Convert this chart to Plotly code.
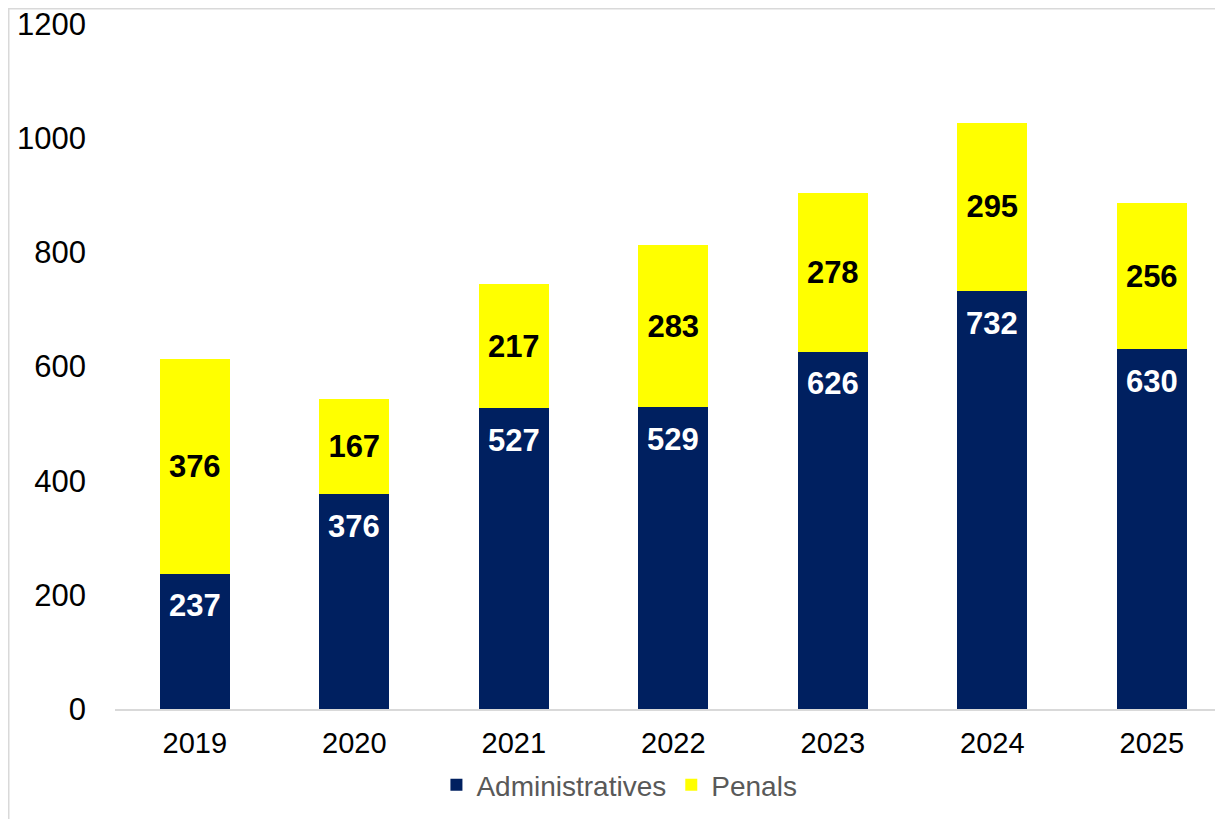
import plotly.graph_objects as go

years = ["2019", "2020", "2021", "2022", "2023", "2024", "2025"]
administratives = [237, 376, 527, 529, 626, 732, 630]
penals = [376, 167, 217, 283, 278, 295, 256]

NAVY = "#002060"
YELLOW = "#FFFF00"
FONT = "Liberation Sans, Arial, sans-serif"

L, T, B = 107, 16, 118
W, H = 1223, 819
PW = W - L
PH = H - T - B

fig = go.Figure()
fig.add_trace(go.Bar(
    x=years, y=administratives, name="Administratives",
    marker=dict(color=NAVY, line=dict(width=0)),
))
fig.add_trace(go.Bar(
    x=years, y=penals, name="Penals",
    marker=dict(color=YELLOW, line=dict(width=0)),
    text=[str(v) for v in penals], textposition="inside",
    insidetextanchor="middle", textangle=0, constraintext="none",
    textfont=dict(family=FONT, size=31, color="black", weight="bold"),
))

# admin value labels just below the top of each navy segment (category index on x)
for i, v in enumerate(administratives):
    fig.add_annotation(x=i, y=v, xref="x", yref="y", text=f"<b>{v}</b>",
                       showarrow=False, yanchor="middle", yshift=-32,
                       font=dict(family=FONT, size=31, color="white"))

fig.update_layout(
    barmode="stack",
    bargap=0.56,
    width=W, height=H,
    margin=dict(l=L, r=0, t=T, b=B),
    paper_bgcolor="white", plot_bgcolor="white",
    font=dict(family=FONT, color="black"),
    showlegend=True,
    legend=dict(orientation="h", x=0.452, xanchor="center", y=-0.111, yanchor="middle",
                font=dict(family=FONT, size=28, color="#595959"), traceorder="normal",
                itemwidth=30),
    xaxis=dict(type="category", range=[-0.5, -0.5 + PW / 159.5], showgrid=False, showline=True,
               linecolor="#D9D9D9", linewidth=2, ticks="",
               tickfont=dict(family=FONT, size=29, color="black"), ticklabelstandoff=7),
    yaxis=dict(range=[0, 1200], dtick=200, showgrid=False, showline=False, zeroline=False,
               ticks="", tickfont=dict(family=FONT, size=31, color="black"),
               ticklabelstandoff=28, ticklabeloverflow="allow"),
    shapes=[dict(type="rect", xref="paper", yref="paper",
                 x0=(0.5 - L) / PW, x1=1.05, y0=-0.3, y1=(PH + T - 0.5) / PH,
                 line=dict(color="#D9D9D9", width=2), layer="below")],
)

fig.write_html("out.html")
